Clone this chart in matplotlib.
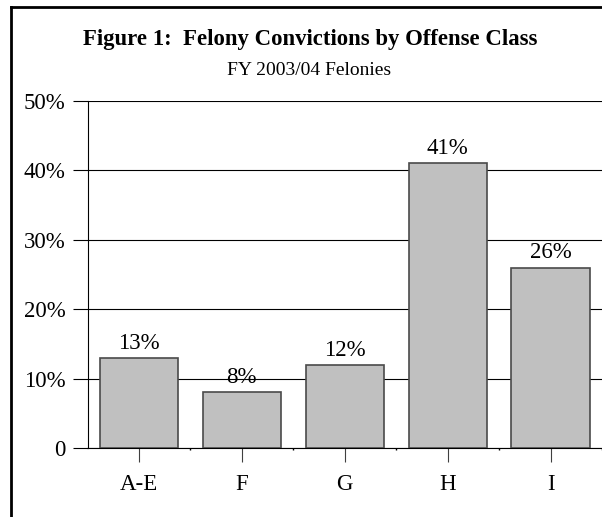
import matplotlib.pyplot as plt
from matplotlib.lines import Line2D

# data
classes = ['A-E', 'F', 'G', 'H', 'I']
shares = [13, 8, 12, 41, 26]
yticks = [0, 10, 20, 30, 40, 50]
ytick_labels = ['0', '10%', '20%', '30%', '40%', '50%']

plt.rcParams['font.family'] = ['Liberation Serif', 'DejaVu Serif']

fig = plt.figure(figsize=(6.02, 5.17), dpi=100)
ax = fig.add_axes([87.5 / 602, 1 - 448 / 517, 1 - 87.5 / 602, (448 - 101) / 517])

x = range(len(classes))
ax.bar(x, shares, width=0.76, color='#c0c0c0', edgecolor='#4a4a4a', linewidth=1.2, zorder=3)
for xi, v in zip(x, shares):
    ax.text(xi, v + 0.6, f'{v}%', ha='center', va='bottom', fontsize=16.5)

ax.set_xlim(-0.5, len(classes) - 0.5)
ax.set_ylim(0, 50)
ax.set_yticks(yticks)
ax.set_yticklabels(ytick_labels, fontsize=16.5)
ax.set_xticks(list(x))
ax.set_xticklabels(classes, fontsize=16.5)
ax.set_xticks([i + 0.5 for i in x], minor=True)
ax.tick_params(axis='y', length=10.5, width=0.8, pad=5.5, color='black')
ax.tick_params(axis='x', length=10, width=0.8, pad=9, color='#404040')
ax.tick_params(axis='x', which='minor', length=1.5, width=1)
ax.grid(axis='y', color='black', linewidth=0.8, zorder=0)
ax.set_axisbelow(True)
for s in ['top', 'right']:
    ax.spines[s].set_visible(False)
ax.spines['left'].set_linewidth(0.8)
ax.spines['bottom'].set_linewidth(0.8)

# titles are centred on the full frame, which runs past the right edge
fig.text(310 / 602, 1 - 45 / 517, 'Figure 1:  Felony Convictions by Offense Class',
         ha='center', va='baseline', fontsize=16.4, fontweight='bold')
fig.text(309 / 602, 1 - 75 / 517, 'FY 2003/04 Felonies', ha='center', va='baseline', fontsize=14)

# frame around the chart (right and bottom edges fall outside the picture)
fig.add_artist(Line2D([11 / 602, 11 / 602], [0, 1 - 6.5 / 517], transform=fig.transFigure,
                      color='black', linewidth=2))
fig.add_artist(Line2D([11 / 602, 1], [1 - 6.5 / 517, 1 - 6.5 / 517], transform=fig.transFigure,
                      color='black', linewidth=2))

fig.savefig('out.png', dpi=100)
